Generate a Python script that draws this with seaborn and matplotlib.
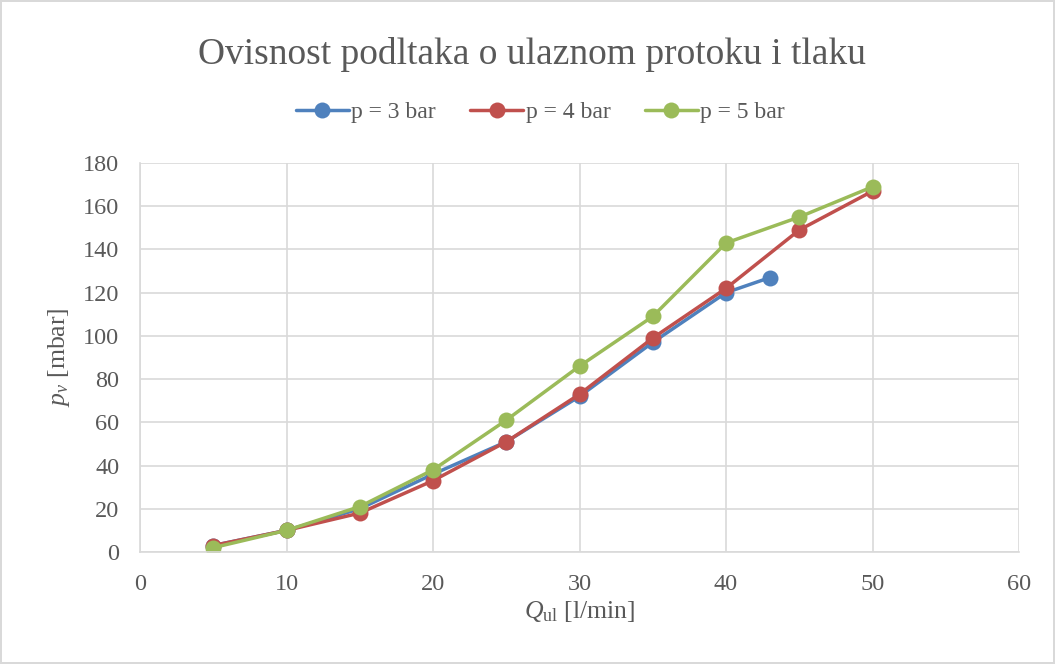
import numpy as np
import pandas as pd
import matplotlib
matplotlib.use("Agg")
import matplotlib.pyplot as plt
import seaborn as sns

# data
q_3bar = [5, 10, 15, 20, 25, 30, 35, 40, 43]
pv_3bar = [3, 10, 20, 36, 51, 72, 97, 120, 127]
q_4bar = [5, 10, 15, 20, 25, 30, 35, 40, 45, 50]
pv_4bar = [3, 10, 18, 33, 51, 73, 99, 122, 149, 167]
q_5bar = [5, 10, 15, 20, 25, 30, 35, 40, 45, 50]
pv_5bar = [2, 10, 21, 38, 61, 86, 109, 143, 155, 169]
series_labels = ["p = 3 bar", "p = 4 bar", "p = 5 bar"]
colors = ["#4F81BD", "#C0504D", "#9BBB59"]

frames = []
for lab, q, pv in zip(series_labels, [q_3bar, q_4bar, q_5bar], [pv_3bar, pv_4bar, pv_5bar]):
    frames.append(pd.DataFrame({"Q": q, "pv": pv, "series": lab}))
df = pd.concat(frames, ignore_index=True)

sns.set_theme(style="white")
plt.rcParams["font.family"] = ["Liberation Serif", "DejaVu Serif"]
plt.rcParams["mathtext.fontset"] = "custom"
plt.rcParams["mathtext.it"] = "Liberation Serif:italic"
plt.rcParams["mathtext.rm"] = "Liberation Serif"

fig = plt.figure(figsize=(10.55, 6.64), dpi=100)
fig.patch.set_edgecolor("#D9D9D9")
fig.patch.set_linewidth(1.5)
ax = fig.add_axes([0.1327, 0.1687, 0.8332, 0.5858])

sns.lineplot(
    data=df, x="Q", y="pv", hue="series", palette=colors,
    marker="o", markersize=11.5, markeredgewidth=0, linewidth=2.5,
    sort=False, ax=ax, legend=False,
)

ax.set_xlim(0, 60)
ax.set_ylim(0, 180)
ax.set_xticks(np.arange(0, 61, 10))
ax.set_yticks(np.arange(0, 181, 20))
ax.grid(True, color="#D9D9D9", linewidth=1.2)
ax.set_axisbelow(True)
for s in ["top", "right"]:
    ax.spines[s].set_visible(False)
for s in ["left", "bottom"]:
    ax.spines[s].set_color("#D9D9D9")
    ax.spines[s].set_linewidth(1.2)
ax.tick_params(axis="both", length=0, labelsize=17.5, labelcolor="#595959")
ax.tick_params(axis="y", pad=15)
ax.tick_params(axis="x", pad=16)

ax.set_xlabel(r"$Q_{\mathrm{ul}}$ [l/min]", fontsize=18.5, color="#595959", labelpad=3)
ax.set_ylabel(r"$p_{v}$ [mbar]", fontsize=18.5, color="#595959", labelpad=8)

fig.text(0.504, 0.918, "Ovisnost podltaka o ulaznom protoku i tlaku",
         ha="center", va="center", fontsize=27, color="#595959")

handles = [
    plt.Line2D([], [], color=c, marker="o", markersize=11.5, markeredgewidth=0, linewidth=2.5)
    for c in colors
]
fig.legend(handles, series_labels, loc="center", bbox_to_anchor=(0.512, 0.831),
           ncol=3, frameon=False, fontsize=17, labelcolor="#595959",
           handlelength=2.25, handletextpad=0.1, columnspacing=1.45)

fig.savefig("out.png", dpi=100)
